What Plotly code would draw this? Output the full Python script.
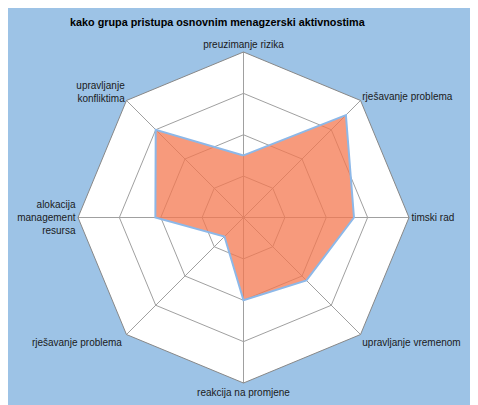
import plotly.graph_objects as go

# category labels, clockwise from the top
categories = [
    "preuzimanje rizika",
    "rješavanje problema",
    "timski rad",
    "upravljanje vremenom",
    "reakcija na promjene",
    "rješavanje problema ",
    "alokacija<br>management<br>resursa",
    "upravljanje<br>konfliktima",
]
scores = [1.5, 3.5, 2.67, 2.15, 2.0, 0.65, 2.13, 3.0]
ring_ticks = [1, 2, 3, 4]

BG = "#9DC3E6"
GRID = "#A0A0A0"

fig = go.Figure()
fig.add_trace(go.Scatterpolar(
    r=scores + scores[:1],
    theta=categories + categories[:1],
    mode="lines",
    fill="toself",
    fillcolor="rgba(244,120,80,0.75)",
    line=dict(color="#8DB8E8", width=2),
    hoverinfo="r+theta",
))

fig.update_layout(
    width=478, height=405,
    paper_bgcolor=BG,
    showlegend=False,
    margin=dict(l=0, r=7, t=44, b=30),
    font=dict(family="Liberation Sans, Arial, sans-serif", size=10, color="#1a1a1a"),
    title=dict(
        text="<b>kako grupa pristupa osnovnim menagzerski aktivnostima</b>",
        font=dict(size=10.8, color="black"),
        x=0.438, xanchor="center", xref="container",
        y=0.965, yanchor="middle", yref="container",
    ),
    polar=dict(
        bgcolor="white",
        gridshape="linear",
        angularaxis=dict(
            direction="clockwise", rotation=90,
            showgrid=True, gridcolor=GRID, gridwidth=1,
            linecolor="#888888", linewidth=1,
            ticks="", tickfont=dict(size=10),
        ),
        radialaxis=dict(
            range=[0, 4], tickvals=ring_ticks,
            showticklabels=False, ticks="",
            showline=False, gridcolor=GRID, gridwidth=1,
        ),
    ),
)

fig.write_html("out.html")
